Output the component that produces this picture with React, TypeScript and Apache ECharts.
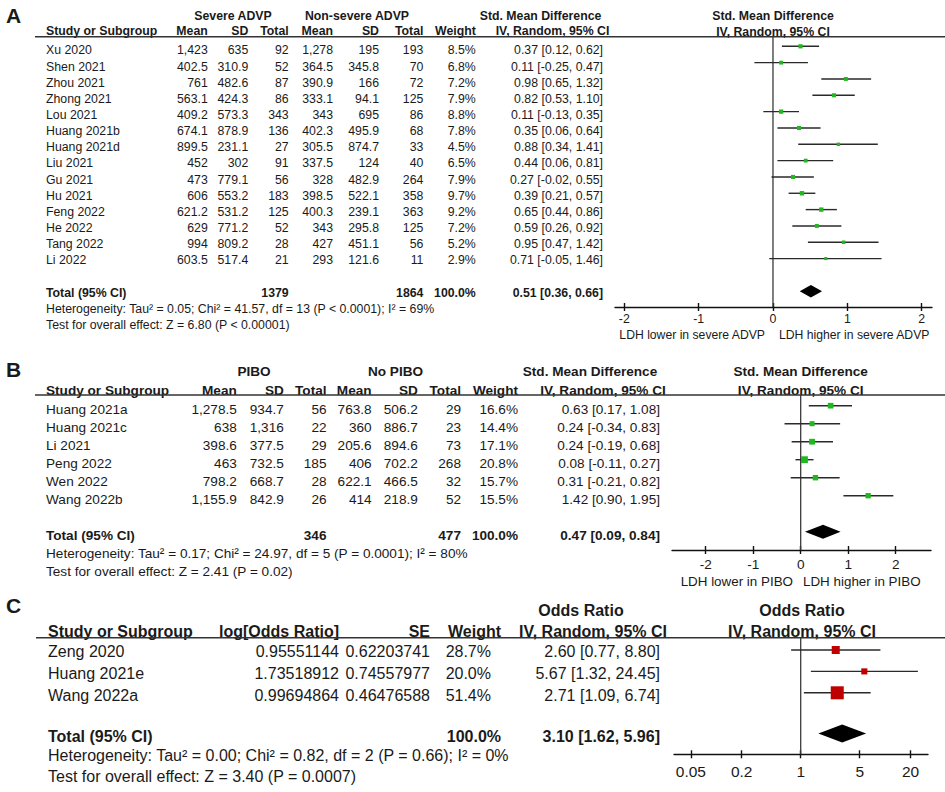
import React, { useEffect, useRef } from "react";
import * as echarts from "echarts";

const FONT = "'Liberation Sans', Arial, Helvetica, sans-serif";
const INK = "#1a1a1a";

// ---------------- Panel A data ----------------
const studiesA = ["Xu 2020", "Shen 2021", "Zhou 2021", "Zhong 2021", "Lou 2021", "Huang 2021b", "Huang 2021d", "Liu 2021", "Gu 2021", "Hu 2021", "Feng 2022", "He 2022", "Tang 2022", "Li 2022"];
const sevMeanA = [1423, 402.5, 761, 563.1, 409.2, 674.1, 899.5, 452, 473, 606, 621.2, 629, 994, 603.5];
const sevSdA = [635, 310.9, 482.6, 424.3, 573.3, 878.9, 231.1, 302, 779.1, 553.2, 531.2, 771.2, 809.2, 517.4];
const sevNA = [92, 52, 87, 86, 343, 136, 27, 91, 56, 183, 125, 52, 28, 21];
const nonMeanA = [1278, 364.5, 390.9, 333.1, 343, 402.3, 305.5, 337.5, 328, 398.5, 400.3, 343, 427, 293];
const nonSdA = [195, 345.8, 166, 94.1, 695, 495.9, 874.7, 124, 482.9, 522.1, 239.1, 295.8, 451.1, 121.6];
const nonNA = [193, 70, 72, 125, 86, 68, 33, 40, 264, 358, 363, 125, 56, 11];
const weightA = [8.5, 6.8, 7.2, 7.9, 8.8, 7.8, 4.5, 6.5, 7.9, 9.7, 9.2, 7.2, 5.2, 2.9];
const smdA = [0.37, 0.11, 0.98, 0.82, 0.11, 0.35, 0.88, 0.44, 0.27, 0.39, 0.65, 0.59, 0.95, 0.71];
const loA = [0.12, -0.25, 0.65, 0.53, -0.13, 0.06, 0.34, 0.06, -0.02, 0.21, 0.44, 0.26, 0.47, -0.05];
const hiA = [0.62, 0.47, 1.32, 1.1, 0.35, 0.64, 1.41, 0.81, 0.55, 0.57, 0.86, 0.92, 1.42, 1.46];
const totalNA = [1379, 1864];
const totalCIA = [0.51, 0.36, 0.66];
const ticksA = [-2, -1, 0, 1, 2];
const hetA = "Heterogeneity: Tau² = 0.05; Chi² = 41.57, df = 13 (P < 0.0001); I² = 69%";
const testA = "Test for overall effect: Z = 6.80 (P < 0.00001)";

// ---------------- Panel B data ----------------
const studiesB = ["Huang 2021a", "Huang 2021c", "Li 2021", "Peng 2022", "Wen 2022", "Wang 2022b"];
const piboMeanB = [1278.5, 638, 398.6, 463, 798.2, 1155.9];
const piboSdB = [934.7, 1316, 377.5, 732.5, 668.7, 842.9];
const piboNB = [56, 22, 29, 185, 28, 26];
const noMeanB = [763.8, 360, 205.6, 406, 622.1, 414];
const noSdB = [506.2, 886.7, 894.6, 702.2, 466.5, 218.9];
const noNB = [29, 23, 73, 268, 32, 52];
const weightB = [16.6, 14.4, 17.1, 20.8, 15.7, 15.5];
const smdB = [0.63, 0.24, 0.24, 0.08, 0.31, 1.42];
const loB = [0.17, -0.34, -0.19, -0.11, -0.21, 0.9];
const hiB = [1.08, 0.83, 0.68, 0.27, 0.82, 1.95];
const totalNB = [346, 477];
const totalCIB = [0.47, 0.09, 0.84];
const ticksB = [-2, -1, 0, 1, 2];
const hetB = "Heterogeneity: Tau² = 0.17; Chi² = 24.97, df = 5 (P = 0.0001); I² = 80%";
const testB = "Test for overall effect: Z = 2.41 (P = 0.02)";

// ---------------- Panel C data ----------------
const studiesC = ["Zeng 2020", "Huang 2021e", "Wang 2022a"];
const logOrC = [0.95551144, 1.73518912, 0.99694864];
const seC = [0.62203741, 0.74557977, 0.46476588];
const weightC = [28.7, 20.0, 51.4];
const orC = [2.6, 5.67, 2.71];
const loC = [0.77, 1.32, 1.09];
const hiC = [8.8, 24.45, 6.74];
const totalCIC = [3.1, 1.62, 5.96];
const ticksC = [0.05, 0.2, 1, 5, 20];
const hetC = "Heterogeneity: Tau² = 0.00; Chi² = 0.82, df = 2 (P = 0.66); I² = 0%";
const testC = "Test for overall effect: Z = 3.40 (P = 0.0007)";

// ---------------- helpers ----------------
const fmtNum = (v: number) => v.toLocaleString("en-US", { maximumFractionDigits: 2 });
const fmtCI = (e: number, l: number, h: number) => `${e.toFixed(2)} [${l.toFixed(2)}, ${h.toFixed(2)}]`;
const pct = (w: number) => `${w.toFixed(1)}%`;

function T(text: string, x: number, y: number, size: number, bold = false, align: string = "left") {
  return {
    type: "text",
    x,
    y,
    silent: true,
    style: {
      text,
      fill: INK,
      fontSize: size,
      fontWeight: bold ? "bold" : "normal",
      fontFamily: FONT,
      textAlign: align,
      textVerticalAlign: "middle",
    },
  };
}

function HLine(x1: number, x2: number, y: number) {
  return { type: "line", silent: true, shape: { x1, y1: y, x2, y2: y }, style: { stroke: "#333", lineWidth: 1.5 } };
}

function forestSeries(xi: number, yi: number, est: number[], lo: number[], hi: number[], w: number[], color: string, sizeFn: (w: number) => number) {
  return {
    type: "custom",
    xAxisIndex: xi,
    yAxisIndex: yi,
    silent: true,
    z: 4,
    encode: { x: [0, 1, 2], y: 3 },
    data: est.map((e, i) => [e, lo[i], hi[i], i, w[i]]),
    renderItem: (_p: any, api: any) => {
      const r = api.value(3);
      const pL = api.coord([api.value(1), r]);
      const pH = api.coord([api.value(2), r]);
      const pE = api.coord([api.value(0), r]);
      const s = sizeFn(api.value(4));
      return {
        type: "group",
        children: [
          { type: "line", shape: { x1: pL[0], y1: pL[1], x2: pH[0], y2: pH[1] }, style: { stroke: "#2a2a2a", lineWidth: 1.4 } },
          { type: "rect", shape: { x: pE[0] - s / 2, y: pE[1] - s / 2, width: s, height: s }, style: { fill: color } },
        ],
      };
    },
  };
}

function diamondSeries(xi: number, yi: number, ci: number[], row: number, half: number) {
  return {
    type: "custom",
    xAxisIndex: xi,
    yAxisIndex: yi,
    silent: true,
    z: 4,
    encode: { x: [0, 1, 2], y: 3 },
    data: [[ci[0], ci[1], ci[2], row]],
    renderItem: (_p: any, api: any) => {
      const r = api.value(3);
      const a = api.coord([api.value(1), r]);
      const b = api.coord([api.value(0), r]);
      const c = api.coord([api.value(2), r]);
      return {
        type: "polygon",
        shape: { points: [[a[0], a[1]], [b[0], b[1] - half], [c[0], c[1]], [b[0], b[1] + half]] },
        style: { fill: "#000" },
      };
    },
  };
}

function refLine(xi: number, yi: number, ref: number, yMin: number, yMax: number) {
  return {
    type: "line",
    xAxisIndex: xi,
    yAxisIndex: yi,
    silent: true,
    z: 2,
    symbol: "none",
    data: [[ref, yMin], [ref, yMax]],
    lineStyle: { color: "#3a3a3a", width: 1.3 },
  };
}

function mainX(gi: number, min: number, max: number, ticks: number[], size: number, margin: number, fmt?: (v: number) => string) {
  return {
    type: "value",
    gridIndex: gi,
    min,
    max,
    position: "bottom",
    axisLine: { show: true, onZero: false, lineStyle: { color: "#111", width: 1.4 } },
    axisTick: { show: true, inside: false, length: 4, customValues: ticks, lineStyle: { color: "#111", width: 1.4 } },
    axisLabel: { show: true, customValues: ticks, margin, fontSize: size, fontFamily: FONT, color: INK, formatter: fmt },
    splitLine: { show: false },
  };
}

function innerX(gi: number, min: number, max: number, ticks: number[]) {
  return {
    type: "value",
    gridIndex: gi,
    min,
    max,
    position: "bottom",
    axisLine: { show: false, onZero: false },
    axisTick: { show: true, inside: true, length: 4, customValues: ticks, lineStyle: { color: "#111", width: 1.4 } },
    axisLabel: { show: false },
    splitLine: { show: false },
  };
}

function buildOption() {
  // layout (pixels)
  const A = { size: 12.3, nameX: 46, cols: [207.8, 248.3, 288.7, 333, 379, 423.4, 475.8], effX: 603, ty0: 50.4, tdy: 16.15, tyTot: 292.6, gTop: 36.7, gBot: 307, r0: 46.3, rdy: 16.33 };
  const B = { size: 13.6, nameX: 46, cols: [236.8, 283.8, 326.5, 371.6, 417.8, 461, 518], effX: 660, ty0: 409.7, tdy: 18, tyTot: 535, gTop: 395, gBot: 550, r0: 405.7, rdy: 18 };
  const C = { size: 16, nameX: 48, effX: 660, ty0: 651.7, tdy: 21.65, tyTot: 736.7, gTop: 637.7, gBot: 754.3, r0: 650, rdy: 21.4 };

  const yA = [(A.gTop - A.r0) / A.rdy, (A.gBot - A.r0) / A.rdy];
  const yB = [(B.gTop - B.r0) / B.rdy, (B.gBot - B.r0) / B.rdy];
  const yC = [(C.gTop - C.r0) / C.rdy, (C.gBot - C.r0) / C.rdy];

  const els: any[] = [];

  // ---- Panel A ----
  els.push(T("A", 6, 15, 21, true));
  els.push(T("Severe ADVP", 233, 15.5, A.size, true, "center"));
  els.push(T("Non-severe ADVP", 357, 15.5, A.size, true, "center"));
  els.push(T("Std. Mean Difference", 540.5, 15.5, A.size, true, "center"));
  els.push(T("Std. Mean Difference", 773, 15.5, A.size, true, "center"));
  const hdrA = ["Mean", "SD", "Total", "Mean", "SD", "Total", "Weight"];
  els.push(T("Study or Subgroup", A.nameX, 31, A.size, true));
  hdrA.forEach((h, k) => els.push(T(h, A.cols[k], 31, A.size, true, "right")));
  els.push(T("IV, Random, 95% CI", 552.5, 31, A.size, true, "center"));
  els.push(T("IV, Random, 95% CI", 773, 31.5, A.size, true, "center"));
  els.push(HLine(35, 945, A.gTop));
  studiesA.forEach((s, i) => {
    const y = A.ty0 + A.tdy * i;
    els.push(T(s, A.nameX, y, A.size));
    const vals = [fmtNum(sevMeanA[i]), fmtNum(sevSdA[i]), String(sevNA[i]), fmtNum(nonMeanA[i]), fmtNum(nonSdA[i]), String(nonNA[i]), pct(weightA[i])];
    vals.forEach((v, k) => els.push(T(v, A.cols[k], y, A.size, false, "right")));
    els.push(T(fmtCI(smdA[i], loA[i], hiA[i]), A.effX, y, A.size, false, "right"));
  });
  els.push(T("Total (95% CI)", A.nameX, A.tyTot, A.size, true));
  els.push(T(String(totalNA[0]), A.cols[2], A.tyTot, A.size, true, "right"));
  els.push(T(String(totalNA[1]), A.cols[5], A.tyTot, A.size, true, "right"));
  els.push(T("100.0%", A.cols[6], A.tyTot, A.size, true, "right"));
  els.push(T(fmtCI(totalCIA[0], totalCIA[1], totalCIA[2]), A.effX, A.tyTot, A.size, true, "right"));
  els.push(T(hetA, A.nameX, 308.5, A.size));
  els.push(T(testA, A.nameX, 324.5, A.size));
  els.push(T("LDH lower in severe ADVP", 765, 335, 12.2, false, "right"));
  els.push(T("LDH higher in severe ADVP", 779, 335, 12.2, false, "left"));

  // ---- Panel B ----
  els.push(T("B", 6, 369, 21, true));
  els.push(T("PIBO", 254, 371.7, B.size, true, "center"));
  els.push(T("No PIBO", 395.5, 371.7, B.size, true, "center"));
  els.push(T("Std. Mean Difference", 590, 371.7, B.size, true, "center"));
  els.push(T("Std. Mean Difference", 800.7, 371.7, B.size, true, "center"));
  els.push(T("Study or Subgroup", B.nameX, 390, B.size, true));
  hdrA.forEach((h, k) => els.push(T(h, B.cols[k], 390, B.size, true, "right")));
  els.push(T("IV, Random, 95% CI", 603, 390, B.size, true, "center"));
  els.push(T("IV, Random, 95% CI", 800.7, 390, B.size, true, "center"));
  els.push(HLine(35, 945, B.gTop));
  studiesB.forEach((s, i) => {
    const y = B.ty0 + B.tdy * i;
    els.push(T(s, B.nameX, y, B.size));
    const vals = [fmtNum(piboMeanB[i]), fmtNum(piboSdB[i]), String(piboNB[i]), fmtNum(noMeanB[i]), fmtNum(noSdB[i]), String(noNB[i]), pct(weightB[i])];
    vals.forEach((v, k) => els.push(T(v, B.cols[k], y, B.size, false, "right")));
    els.push(T(fmtCI(smdB[i], loB[i], hiB[i]), B.effX, y, B.size, false, "right"));
  });
  els.push(T("Total (95% CI)", B.nameX, B.tyTot, B.size, true));
  els.push(T(String(totalNB[0]), B.cols[2], B.tyTot, B.size, true, "right"));
  els.push(T(String(totalNB[1]), B.cols[5], B.tyTot, B.size, true, "right"));
  els.push(T("100.0%", B.cols[6], B.tyTot, B.size, true, "right"));
  els.push(T(fmtCI(totalCIB[0], totalCIB[1], totalCIB[2]), B.effX, B.tyTot, B.size, true, "right"));
  els.push(T(hetB, B.nameX, 553, B.size));
  els.push(T(testB, B.nameX, 571, B.size));
  els.push(T("LDH lower in PIBO", 793, 581, 13.4, false, "right"));
  els.push(T("LDH higher in PIBO", 803, 581, 13.4, false, "left"));

  // ---- Panel C ----
  els.push(T("C", 6, 605, 21, true));
  els.push(T("Odds Ratio", 581, 610, C.size, true, "center"));
  els.push(T("Odds Ratio", 802, 610, C.size, true, "center"));
  els.push(T("Study or Subgroup", C.nameX, 631.7, C.size, true));
  els.push(T("log[Odds Ratio]", 339, 631.7, C.size, true, "right"));
  els.push(T("SE", 430, 631.7, C.size, true, "right"));
  els.push(T("Weight", 501, 631.7, C.size, true, "right"));
  els.push(T("IV, Random, 95% CI", 593, 631.7, C.size, true, "center"));
  els.push(T("IV, Random, 95% CI", 802, 631.7, C.size, true, "center"));
  els.push(HLine(36, 945, C.gTop));
  studiesC.forEach((s, i) => {
    const y = C.ty0 + C.tdy * i;
    els.push(T(s, C.nameX, y, C.size));
    els.push(T(logOrC[i].toFixed(8), 339, y, C.size, false, "right"));
    els.push(T(seC[i].toFixed(8), 430, y, C.size, false, "right"));
    els.push(T(pct(weightC[i]), 491, y, C.size, false, "right"));
    els.push(T(fmtCI(orC[i], loC[i], hiC[i]), C.effX, y, C.size, false, "right"));
  });
  els.push(T("Total (95% CI)", C.nameX, C.tyTot, C.size, true));
  els.push(T("100.0%", 501, C.tyTot, C.size, true, "right"));
  els.push(T(fmtCI(totalCIC[0], totalCIC[1], totalCIC[2]), C.effX, C.tyTot, C.size, true, "right"));
  els.push(T(hetC, C.nameX, 755.5, C.size));
  els.push(T(testC, C.nameX, 776, C.size));

  // ---- axes ----
  const lg = (v: number) => Math.log10(v);
  const ticksCLog = ticksC.map(lg);
  const fmtC = (v: number) => {
    const k = ticksC.findIndex((t) => Math.abs(lg(t) - v) < 1e-6);
    return k >= 0 ? String(ticksC[k]) : "";
  };
  const xA = [-2.125, 2.139];
  const xB = [-2.709, 2.743];
  const xC = [-1.501, 1.508];

  const grid = [
    { left: 615, top: A.gTop, width: 317, height: A.gBot - A.gTop, outerBoundsMode: "none", containLabel: false },
    { left: 672, top: B.gTop, width: 259, height: B.gBot - B.gTop, outerBoundsMode: "none", containLabel: false },
    { left: 674, top: C.gTop, width: 254, height: C.gBot - C.gTop, outerBoundsMode: "none", containLabel: false },
  ];
  const xAxis = [
    mainX(0, xA[0], xA[1], ticksA, 12.3, 6),
    innerX(0, xA[0], xA[1], ticksA),
    mainX(1, xB[0], xB[1], ticksB, 13.6, 7),
    innerX(1, xB[0], xB[1], ticksB),
    mainX(2, xC[0], xC[1], ticksCLog, 15.5, 9, fmtC),
    innerX(2, xC[0], xC[1], ticksCLog),
  ];
  const yAxis = [
    { type: "value", gridIndex: 0, min: yA[0], max: yA[1], inverse: true, show: false },
    { type: "value", gridIndex: 1, min: yB[0], max: yB[1], inverse: true, show: false },
    { type: "value", gridIndex: 2, min: yC[0], max: yC[1], inverse: true, show: false },
  ];

  const green = "#1fb81f";
  const red = "#c00000";
  const series = [
    refLine(0, 0, 0, yA[0], yA[1]),
    forestSeries(0, 0, smdA, loA, hiA, weightA, green, (w) => 2.5 + 0.2 * w),
    diamondSeries(0, 0, totalCIA, studiesA.length + 1, 6.3),
    refLine(2, 1, 0, yB[0], yB[1]),
    forestSeries(2, 1, smdB, loB, hiB, weightB, green, (w) => 1 + 0.28 * w),
    diamondSeries(2, 1, totalCIB, studiesB.length + 1, 7),
    refLine(4, 2, 0, yC[0], yC[1]),
    forestSeries(4, 2, orC.map(lg), loC.map(lg), hiC.map(lg), weightC, red, (w) => 1.7 + 0.22 * w),
    diamondSeries(4, 2, totalCIC.map(lg), 3.9, 9),
  ];

  return {
    animation: false,
    backgroundColor: "#fff",
    grid,
    xAxis,
    yAxis,
    series,
    graphic: { elements: els },
  };
}

export default function App() {
  const ref = useRef<HTMLDivElement>(null);
  useEffect(() => {
    if (!ref.current) return;
    const chart = echarts.init(ref.current, undefined, { renderer: "svg" });
    chart.setOption(buildOption() as any);
    return () => chart.dispose();
  }, []);
  return <div ref={ref} style={{ position: "fixed", left: 0, top: 0, width: 945, height: 792, background: "#fff" }} />;
}
